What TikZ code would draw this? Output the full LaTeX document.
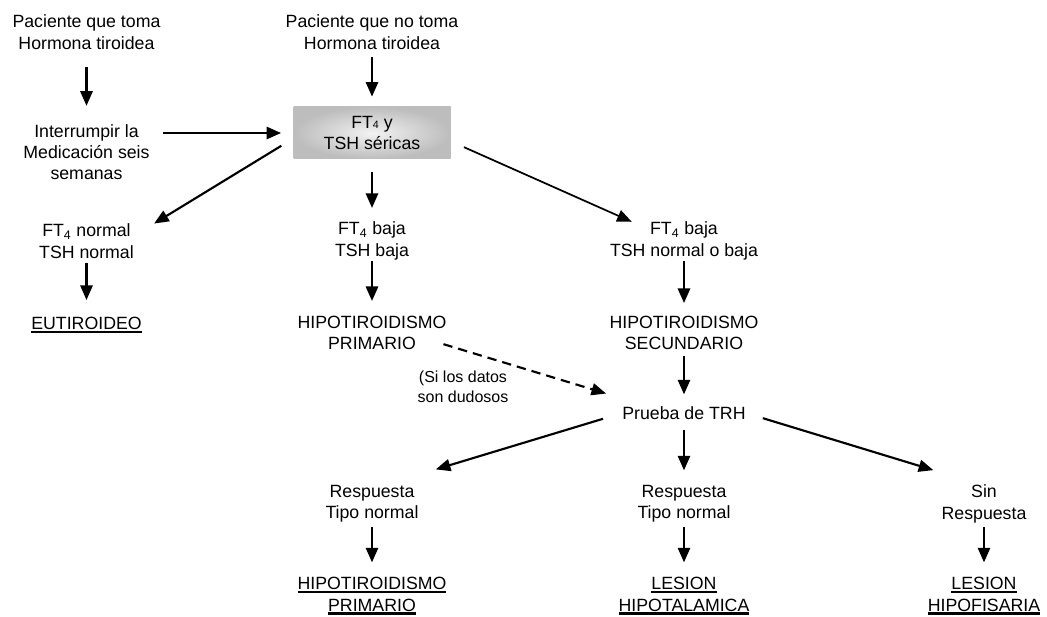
\documentclass[tikz,border=0pt]{standalone}
\usepackage{fontspec}
\setmainfont{Liberation Sans}
\usetikzlibrary{arrows.meta}
\newcommand{\subr}[1]{\setbox0\hbox{#1}\rlap{\rule[-2.6pt]{\wd0}{1.6pt}}\box0}
\begin{document}
\begin{tikzpicture}[x=0.75pt,y=-0.75pt,
    texto/.style={align=center,inner sep=0pt,font=\fontsize{13.3}{16}\selectfont},
    nota/.style={align=center,inner sep=0pt,font=\fontsize{12}{15}\selectfont},
    caja/.style={texto,shade,inner color=black!5,outer color=black!26,
      minimum width=117.75pt,minimum height=39pt},
    flecha/.style={-{Triangle[length=11pt,width=9pt]},line width=2.1pt,
      shorten <=3pt,shorten >=11pt},
    diag/.style={flecha,line width=1.6pt,shorten >=0pt}]
  \useasboundingbox (0,0) rectangle (1047,617);
  \draw
    (86.5,32) node[texto] (p1){Paciente que toma\\Hormona tiroidea}
    (372,32) node[texto] (p2){Paciente que no toma\\Hormona tiroidea}
    (86.5,152) node[texto] (int){Interrumpir la\\Medicación seis\\semanas}
    (372,133) node[caja] (caja){FT{\footnotesize 4} y\\TSH séricas}
    (86.5,241) node[texto] (n1){FT\textsubscript{4} normal\\TSH normal}
    (372,241) node[texto] (n2){FT\textsubscript{4} baja\\TSH baja}
    (684,241) node[texto] (n3){FT\textsubscript{4} baja\\TSH normal o baja}
    (86.5,325) node[texto] (eut){\subr{EUTIROIDEO}}
    (372,333) node[texto] (hp){HIPOTIROIDISMO\\PRIMARIO}
    (684,333) node[texto] (hs){HIPOTIROIDISMO\\SECUNDARIO}
    (463,387) node[nota] (dudas){(Si los datos\\son dudosos}
    (684,413) node[texto] (trh){Prueba de TRH}
    (372,504) node[texto] (r1){Respuesta\\Tipo normal}
    (684,504) node[texto] (r2){Respuesta\\Tipo normal}
    (984,504) node[texto] (r3){Sin\\Respuesta}
    (372,596) node[texto] (d1){\subr{HIPOTIROIDISMO}\\\subr{PRIMARIO}}
    (684,596) node[texto] (d2){\subr{LESION}\\\subr{HIPOTALAMICA}}
    (984,596) node[texto] (d3){\subr{LESION}\\\subr{HIPOFISARIA}};
  \begin{scope}[flecha]
    \draw[shorten <=13.5pt,shorten >=13.5pt] (p1) -- (int);
    \draw[shorten <=5.5pt,shorten >=7.5pt] (p2) -- (caja);
    \draw[shorten <=9.75pt,shorten >=9pt] (int.east |- caja.west) -- (caja.west);
    \draw[shorten <=9.75pt,shorten >=10.3pt] (caja) -- (n2);
    \draw[diag,shorten <=10.5pt] (caja.184) -- ([xshift=15pt]n1.north east);
    \draw[diag,line width=1.3pt,shorten <=10.8pt] (caja.354) -- ([xshift=16.5pt]n3.north west);
    \draw[shorten <=3.75pt,shorten >=12.5pt] (n1) -- (eut);
    \draw[shorten <=0.75pt] (n2) -- (hp);
    \draw[shorten <=0.75pt,shorten >=9.5pt] (n3) -- (hs);
    \draw[shorten <=4.3pt,shorten >=8.8pt] (hs) -- (trh);
    \draw[diag,dash pattern=on 7pt off 4.5pt] ([xshift=-5.25pt,yshift=-7.5pt]hp.east)
      -- ([xshift=-12pt,yshift=9.5pt]trh.north west);
    \draw[shorten <=7.5pt] (trh) -- (r2);
    \draw[diag,shorten <=15pt] (trh.west) -- ([xshift=12.75pt,yshift=11.8pt]r1.north east);
    \draw[diag,shorten <=13.3pt] (trh.east) -- ([xshift=-6pt,yshift=11pt]r3.north west);
    \draw (r1) -- (d1);
    \draw (r2) -- (d2);
    \draw (r3) -- (d3);
  \end{scope}
\end{tikzpicture}
\end{document}
